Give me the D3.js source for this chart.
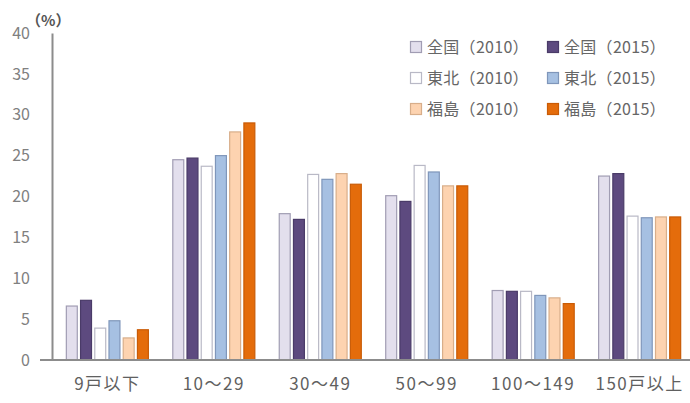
<!DOCTYPE html>
<html><head><meta charset="utf-8">
<script src="https://cdn.jsdelivr.net/npm/d3@7"></script>
<style>
html,body{margin:0;padding:0;background:#fff;}
svg{display:block;font-family:"Noto Sans CJK JP","Noto Sans",sans-serif;}
</style></head>
<body><svg id="c" width="690" height="403"></svg>
<script>
const categories = ["9戸以下","10～29","30～49","50～99","100～149","150戸以上"];
const seriesNames = ["全国（2010）","全国（2015）","東北（2010）","東北（2015）","福島（2010）","福島（2015）"];
const zenkoku2010 = [6.6, 24.5, 17.9, 20.1, 8.5, 22.5];
const zenkoku2015 = [7.3, 24.7, 17.2, 19.4, 8.4, 22.8];
const tohoku2010  = [3.9, 23.7, 22.7, 23.8, 8.4, 17.6];
const tohoku2015  = [4.8, 25.0, 22.1, 23.0, 7.9, 17.4];
const fukushima2010 = [2.7, 27.9, 22.8, 21.3, 7.6, 17.5];
const fukushima2015 = [3.7, 29.0, 21.5, 21.3, 6.9, 17.5];
const yTicks = [0,5,10,15,20,25,30,35,40];

const seriesValues = [zenkoku2010, zenkoku2015, tohoku2010, tohoku2015, fukushima2010, fukushima2015];
const fills   = ["#e3dfed","#5d4a7f","#ffffff","#a6c0e2","#fdd3b0","#e46c0b"];
const strokes = ["#a19db3","#4a3b68","#b9b9c6","#7f96ba","#d8ae8a","#c95b06"];

const svg = d3.select("#c");
const x0 = d3.scaleBand().domain(categories).range([52, 695]).paddingInner(0.22).paddingOuter(0.13);
const x1 = d3.scaleBand().domain(d3.range(6)).range([0, x0.bandwidth()]).paddingInner(0.16).paddingOuter(0);
const y = d3.scaleLinear().domain([0,40]).range([360, 33]);

// bars
const groups = svg.append("g").selectAll("g").data(categories).join("g")
  .attr("transform", d => `translate(${x0(d)},0)`);
groups.selectAll("rect").data((d,i) => seriesValues.map((s,k) => ({k, v: s[i]}))).join("rect")
  .attr("x", d => x1(d.k) + 0.5)
  .attr("y", d => y(d.v))
  .attr("width", x1.bandwidth() - 1)
  .attr("height", d => y(0) - y(d.v))
  .attr("fill", d => fills[d.k])
  .attr("stroke", d => strokes[d.k])
  .attr("stroke-width", 1.2);

// y axis
const yAxis = d3.axisLeft(y).tickValues(yTicks).tickSize(0).tickPadding(22);
const gy = svg.append("g").attr("transform","translate(52,0)").call(yAxis);
gy.select(".domain").attr("stroke","#8c8c8c").attr("stroke-width",2);
gy.selectAll("text").attr("fill","#808080").attr("font-size",16).attr("font-family","'Noto Sans CJK JP',sans-serif");

// x axis
const xAxis = d3.axisBottom(x0).tickSize(0).tickPadding(18);
const gx = svg.append("g").attr("transform","translate(0,360)").call(xAxis);
gx.select(".domain").remove();
gx.append("line").attr("x1",40).attr("x2",690).attr("y1",0).attr("y2",0).attr("stroke","#8c8c8c").attr("stroke-width",2);
gx.selectAll("text").attr("fill","#606060").attr("font-size",17).attr("letter-spacing","1.5px")
  .attr("font-family","'Noto Sans CJK JP',sans-serif");

// unit label
svg.append("text").attr("x",26).attr("y",26).attr("fill","#555").attr("font-size",15)
  .attr("font-weight","bold").text("（%）");

// legend
const legendPos = [[410,47],[547,47],[410,78],[547,78],[410,109],[547,109]];
const lg = svg.append("g").selectAll("g").data(seriesNames).join("g")
  .attr("transform",(d,i)=>`translate(${legendPos[i][0]},${legendPos[i][1]})`);
lg.append("rect").attr("x",0.5).attr("y",-5.5).attr("width",11).attr("height",11)
  .attr("fill",(d,i)=>fills[i]).attr("stroke",(d,i)=>strokes[i]).attr("stroke-width",1.2);
lg.append("text").attr("x",17).attr("y",0).attr("dy","0.36em").attr("fill","#666")
  .attr("font-size",16).attr("letter-spacing","0.3px").text(d=>d);
</script></body></html>
